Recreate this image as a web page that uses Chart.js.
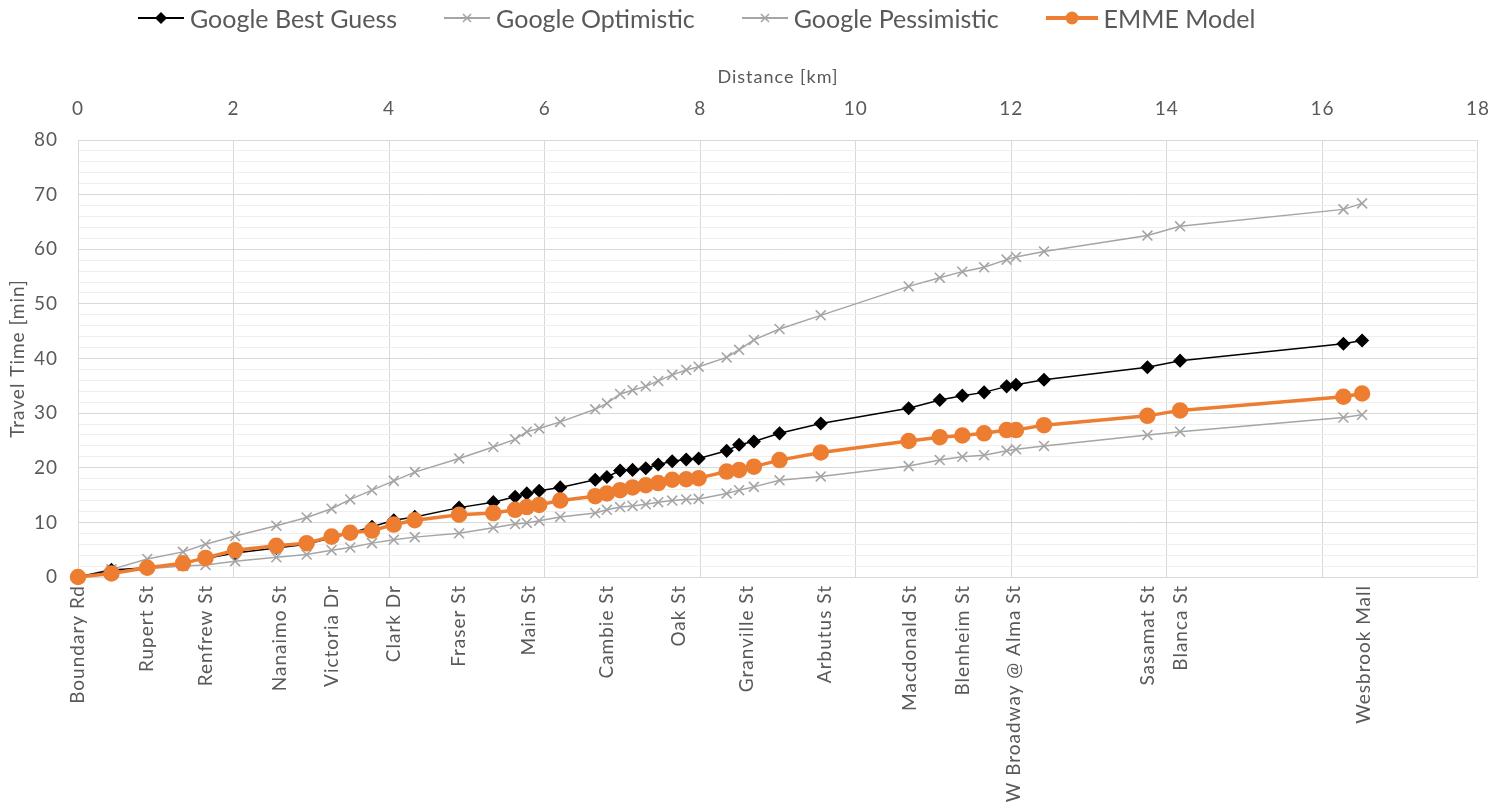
<!DOCTYPE html>
<html>
<head>
<meta charset="utf-8">
<title>Travel time along the corridor</title>
<script src="https://cdn.jsdelivr.net/npm/chart.js@4"></script>
<style>
body { margin: 0; background: #fff; }
#wrap { position: relative; width: 1509px; height: 810px; }
#legend { position: absolute; top: 3px; left: 138px; height: 30px; display: flex; align-items: center;
  font-family: Lato, sans-serif; font-size: 25px; color: #595959; white-space: nowrap; }
.item { display: flex; align-items: center; margin-right: 47px; }
.item svg { margin-right: 6px; }
</style>
</head>
<body>
<div id="wrap">
  <div id="legend">
    <div class="item"><svg width="46" height="20"><line x1="0" y1="10" x2="46" y2="10" stroke="#000" stroke-width="2"/><polygon points="23,4 29,10 23,16 17,10" fill="#000"/></svg>Google Best Guess</div>
    <div class="item"><svg width="46" height="20"><line x1="0" y1="10" x2="46" y2="10" stroke="#a5a5a5" stroke-width="2"/><path d="M19,6 L27,14 M27,6 L19,14" stroke="#a5a5a5" stroke-width="1.6"/></svg>Google Optimistic</div>
    <div class="item"><svg width="46" height="20"><line x1="0" y1="10" x2="46" y2="10" stroke="#a5a5a5" stroke-width="2"/><path d="M19,6 L27,14 M27,6 L19,14" stroke="#a5a5a5" stroke-width="1.6"/></svg>Google Pessimistic</div>
    <div class="item"><svg width="52" height="20"><line x1="0" y1="10" x2="52" y2="10" stroke="#ed7d31" stroke-width="4"/><circle cx="26" cy="10" r="6.5" fill="#ed7d31"/></svg>EMME Model</div>
  </div>
  <canvas id="chart" width="1509" height="810"></canvas>
</div>
<script>
// distance of each stop [km]
const km = [0, 0.43, 0.89, 1.35, 1.64, 2.02, 2.55, 2.94, 3.26, 3.50, 3.78, 4.06, 4.33, 4.90, 5.34,
  5.62, 5.77, 5.93, 6.20, 6.65, 6.80, 6.97, 7.13, 7.30, 7.46, 7.64, 7.82, 7.98, 8.34, 8.50, 8.69,
  9.02, 9.55, 10.68, 11.08, 11.37, 11.65, 11.94, 12.06, 12.42, 13.75, 14.17, 16.27, 16.51];

// travel times [min]
const bestGuess = [0, 1.3, 1.7, 2.5, 3.4, 4.4, 5.3, 6.0, 7.2, 8.0, 9.2, 10.4, 11.0, 12.7, 13.7,
  14.7, 15.3, 15.8, 16.4, 17.8, 18.3, 19.5, 19.6, 19.9, 20.6, 21.2, 21.5, 21.7, 23.1, 24.2, 24.8,
  26.3, 28.1, 30.9, 32.4, 33.2, 33.8, 34.9, 35.2, 36.1, 38.4, 39.6, 42.7, 43.3];
const optimistic = [0, 1.0, 1.5, 2.0, 2.2, 2.9, 3.6, 4.1, 4.9, 5.4, 6.2, 6.8, 7.3, 8.0, 9.0,
  9.7, 9.9, 10.3, 11.0, 11.7, 12.3, 12.8, 13.0, 13.3, 13.7, 14.0, 14.2, 14.3, 15.3, 15.9, 16.5,
  17.7, 18.4, 20.3, 21.4, 22.0, 22.3, 23.1, 23.4, 24.0, 26.0, 26.6, 29.2, 29.7];
const pessimistic = [0, 1.4, 3.3, 4.6, 6.0, 7.5, 9.4, 10.9, 12.5, 14.2, 15.9, 17.6, 19.2, 21.7, 23.8,
  25.2, 26.6, 27.2, 28.4, 30.7, 31.8, 33.5, 34.2, 34.9, 35.9, 37.0, 37.9, 38.5, 40.2, 41.6, 43.4,
  45.4, 47.9, 53.2, 54.8, 55.9, 56.7, 58.1, 58.6, 59.6, 62.5, 64.2, 67.3, 68.4];
const emme = [0, 0.65, 1.7, 2.5, 3.5, 4.9, 5.7, 6.2, 7.4, 8.1, 8.5, 9.6, 10.4, 11.4, 11.7,
  12.3, 12.8, 13.2, 14.0, 14.8, 15.3, 15.9, 16.4, 16.8, 17.2, 17.8, 17.9, 18.1, 19.3, 19.6, 20.2,
  21.4, 22.8, 24.9, 25.6, 25.9, 26.3, 26.9, 26.9, 27.8, 29.5, 30.5, 33.0, 33.6];

// named stations on the lower axis
const stationKm = [0, 0.89, 1.64, 2.6, 3.26, 4.06, 4.9, 5.8, 6.8, 7.73, 8.6, 9.6, 10.7, 11.38,
  12.03, 13.76, 14.18, 16.53];
const stationNames = ['Boundary Rd', 'Rupert St', 'Renfrew St', 'Nanaimo St', 'Victoria Dr', 'Clark Dr',
  'Fraser St', 'Main St', 'Cambie St', 'Oak St', 'Granville St', 'Arbutus St', 'Macdonald St',
  'Blenheim St', 'W Broadway @ Alma St', 'Sasamat St', 'Blanca St', 'Wesbrook Mall'];

const textColor = '#595959';
const gridColor = '#d9d9d9';
const minorGrid = '#eeeeee';

Chart.defaults.font.family = 'Lato, sans-serif';
Chart.defaults.color = textColor;

function pts(vals) {
  return km.map((x, i) => ({ x: x, y: vals[i] }));
}

// the original axis texts are a bit spaced out
const spacing = {
  id: 'spacing',
  beforeDraw(chart) { chart.ctx.letterSpacing = '1px'; },
  afterDraw(chart) { chart.ctx.letterSpacing = '0px'; }
};

new Chart(document.getElementById('chart'), {
  type: 'line',
  data: {
    datasets: [
      { label: 'Google Best Guess', data: pts(bestGuess), borderColor: '#000', backgroundColor: '#000',
        borderWidth: 1.5, pointStyle: 'rectRot', pointRadius: 6, order: 1 },
      { label: 'Google Optimistic', data: pts(optimistic), borderColor: '#a5a5a5', backgroundColor: '#a5a5a5',
        borderWidth: 1.5, pointStyle: 'crossRot', pointRadius: 7, pointBorderWidth: 1.6, order: 3 },
      { label: 'Google Pessimistic', data: pts(pessimistic), borderColor: '#a5a5a5', backgroundColor: '#a5a5a5',
        borderWidth: 1.5, pointStyle: 'crossRot', pointRadius: 7, pointBorderWidth: 1.6, order: 2 },
      { label: 'EMME Model', data: pts(emme), borderColor: '#ed7d31', backgroundColor: '#ed7d31',
        borderWidth: 3.5, pointStyle: 'circle', pointRadius: 6.5, order: 0 }
    ]
  },
  options: {
    responsive: false,
    animation: false,
    datasets: { line: { tension: 0, clip: false } },
    layout: { padding: { top: 40, right: 31, left: 0, bottom: 0 } },
    plugins: { legend: { display: false }, tooltip: { enabled: false } },
    scales: {
      x: {
        type: 'linear', position: 'top', min: 0, max: 18,
        ticks: { stepSize: 2, padding: 20, font: { size: 19 } },
        grid: { color: gridColor, drawTicks: false },
        border: { color: gridColor },
        title: { display: true, text: 'Distance [km]', font: { size: 18 }, padding: { top: 26, bottom: 0 } },
        afterFit: s => { s.height = 100; }
      },
      x2: {
        type: 'linear', position: 'bottom', min: 0, max: 18,
        afterBuildTicks: s => { s.ticks = stationKm.map(v => ({ value: v })); },
        ticks: { autoSkip: false, minRotation: 90, maxRotation: 90, padding: 8, font: { size: 19 },
          callback: (v, i) => stationNames[i] },
        grid: { display: false, drawTicks: false },
        border: { color: gridColor },
        afterFit: s => { s.height = 233; }
      },
      y: {
        min: 0, max: 80,
        ticks: { stepSize: 2, autoSkip: false, padding: 20, font: { size: 19 },
          callback: v => (v % 10 === 0 ? v : '') },
        grid: { color: c => (c.tick.value % 10 === 0 ? gridColor : minorGrid), drawTicks: false },
        border: { color: gridColor },
        title: { display: true, text: 'Travel Time [min]', font: { size: 19 }, padding: { top: 6, bottom: 0 } },
        afterFit: s => { s.width = 78; }
      }
    }
  },
  plugins: [spacing]
});
</script>
</body>
</html>
